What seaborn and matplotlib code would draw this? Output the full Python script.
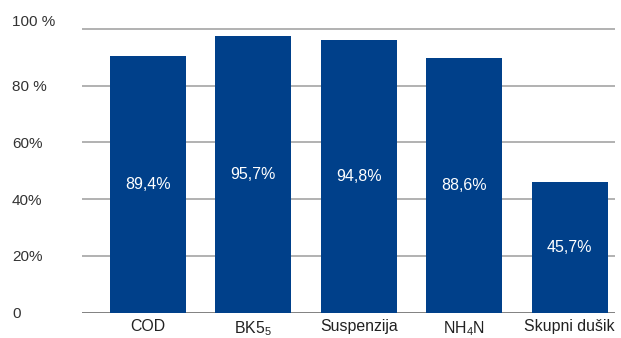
import matplotlib
matplotlib.use("Agg")
import matplotlib.pyplot as plt
import matplotlib.transforms as mtransforms
import seaborn as sns
import pandas as pd

categories = ["COD", "BK5$_5$", "Suspenzija", "NH$_4$N", "Skupni dušik"]
bar_heights = [90.5, 97.5, 96.1, 89.9, 46.1]
value_labels = ["89,4%", "95,7%", "94,8%", "88,6%", "45,7%"]
y_ticks = [0, 20, 40, 60, 80, 100]
y_tick_labels = ["0", "20%", "40%", "60%", "80 %", "100 %"]

df = pd.DataFrame({"kategorija": categories, "vrednost": bar_heights})

sns.set_theme(style="white")
plt.rcParams["font.family"] = ["Liberation Sans", "DejaVu Sans"]
plt.rcParams["mathtext.fontset"] = "custom"
plt.rcParams["mathtext.rm"] = "Liberation Sans"
plt.rcParams["mathtext.it"] = "Liberation Sans"

fig = plt.figure(figsize=(6.21, 3.38), dpi=100)
ax = fig.add_axes([82 / 621, 25.3 / 338, (615 - 82) / 621, 297.9 / 338])

sns.barplot(data=df, x="kategorija", y="vrednost", color="#00408a",
            saturation=1, width=0.721, linewidth=0, ax=ax, zorder=3)

ax.set_ylim(0, 105)
ax.set_xlim(-0.626, 4.431)
ax.set_yticks(y_ticks)
ax.set_yticklabels(y_tick_labels)
ax.set_xlabel("")
ax.set_ylabel("")

for s in ax.spines.values():
    s.set_visible(False)

ax.yaxis.grid(True, color="#ababab", linewidth=1.3, zorder=0)
ax.xaxis.grid(False)
ax.set_axisbelow(True)
ax.axhline(0, color="#7f7f7f", linewidth=1.3, zorder=2)

ax.tick_params(axis="y", length=0, pad=50.4, labelsize=11, labelcolor="#333333")
ax.tick_params(axis="x", length=0, pad=4.5, labelsize=11.4, labelcolor="#222222")
for lbl in ax.get_yticklabels():
    lbl.set_horizontalalignment("left")
# 100 % label sits slightly above its gridline
top_lbl = ax.get_yticklabels()[-1]
top_lbl.set_transform(top_lbl.get_transform() +
                      mtransforms.ScaledTranslation(0, 6 / 72, fig.dpi_scale_trans))

ax.bar_label(ax.containers[0], labels=value_labels, label_type="center",
             color="white", fontsize=11.5)

fig.savefig("out.png", dpi=100)
